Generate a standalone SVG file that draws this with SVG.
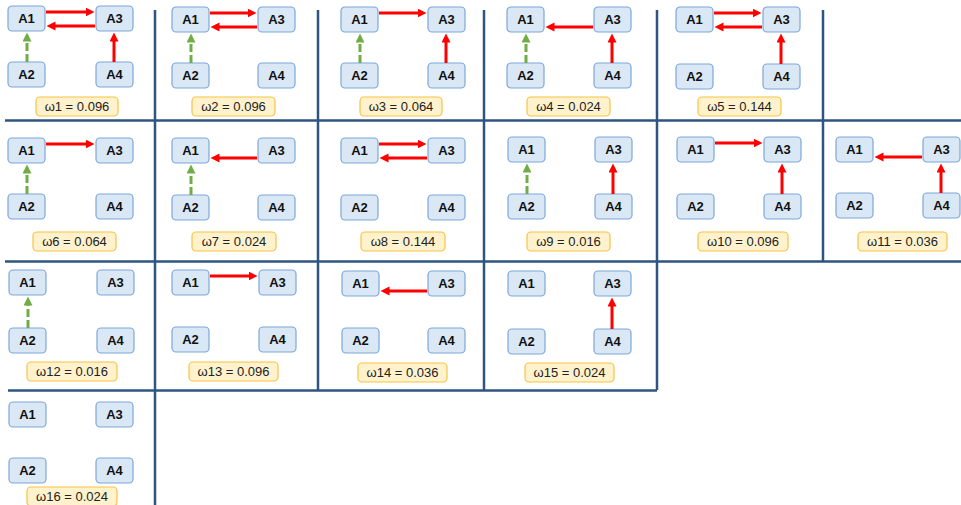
<svg xmlns="http://www.w3.org/2000/svg" width="961" height="505" viewBox="0 0 961 505">
<style>
.n rect{fill:#DAE7F4;stroke:#7DA7D9;stroke-width:1.2}
.n text{font-family:"Liberation Sans",Arial,sans-serif;font-weight:bold;font-size:13px;fill:#111;text-anchor:middle}
.lb rect{fill:#FFF2CC;stroke:#F7C344;stroke-width:1.2}
.lb text{font-family:"Liberation Sans",Arial,sans-serif;font-size:13px;fill:#222;text-anchor:middle}
.grid line{stroke:#2F5480;stroke-width:2.5}
.r{stroke:#FF0000;stroke-width:3;fill:none;marker-end:url(#hr)}
.g{stroke:#70AD47;stroke-width:3;fill:none;stroke-dasharray:8 3;marker-end:url(#hg)}
</style>
<defs>
<marker id="hr" markerUnits="userSpaceOnUse" markerWidth="10" markerHeight="10" refX="0.5" refY="4.5" orient="auto"><path d="M0,0 L9,4.5 L0,9 z" fill="#FF0000"/></marker>
<marker id="hg" markerUnits="userSpaceOnUse" markerWidth="10" markerHeight="10" refX="0.5" refY="4.5" orient="auto"><path d="M0,0 L9,4.5 L0,9 z" fill="#70AD47"/></marker>
</defs>
<rect width="961" height="505" fill="#FFFFFF"/>
<g class="grid" id="grid">
<line x1="5" y1="120.5" x2="961" y2="120.5"/>
<line x1="5" y1="261.5" x2="961" y2="261.5"/>
<line x1="8" y1="390.5" x2="657" y2="390.5"/>
<line x1="155" y1="10" x2="155" y2="505"/>
<line x1="318" y1="10" x2="318" y2="390"/>
<line x1="484" y1="10" x2="484" y2="390"/>
<line x1="657" y1="10" x2="657" y2="390"/>
<line x1="823" y1="10" x2="823" y2="261"/>
</g>
<g id="w1">
<g class="n" id="w1-A1"><rect x="8" y="6" width="37" height="25" rx="4"/><text x="26.5" y="23">A1</text></g>
<g class="n" id="w1-A3"><rect x="96" y="6" width="37" height="25" rx="4"/><text x="114.5" y="23">A3</text></g>
<g class="n" id="w1-A2"><rect x="8" y="62" width="37" height="25" rx="4"/><text x="26.5" y="79">A2</text></g>
<g class="n" id="w1-A4"><rect x="96" y="62" width="37" height="25" rx="4"/><text x="114.5" y="79">A4</text></g>
<g class="lb" id="w1-label"><rect x="36" y="97" width="82" height="19" rx="4"/><text x="77" y="111">ω1 = 0.096</text></g>
</g>
<g id="w2">
<g class="n" id="w2-A1"><rect x="172" y="7" width="37" height="25" rx="4"/><text x="190.5" y="24">A1</text></g>
<g class="n" id="w2-A3"><rect x="258" y="7" width="37" height="25" rx="4"/><text x="276.5" y="24">A3</text></g>
<g class="n" id="w2-A2"><rect x="172" y="63" width="37" height="25" rx="4"/><text x="190.5" y="80">A2</text></g>
<g class="n" id="w2-A4"><rect x="258" y="63" width="37" height="25" rx="4"/><text x="276.5" y="80">A4</text></g>
<g class="lb" id="w2-label"><rect x="192" y="97" width="83" height="19" rx="4"/><text x="233.5" y="111">ω2 = 0.096</text></g>
</g>
<g id="w3">
<g class="n" id="w3-A1"><rect x="341" y="7" width="37" height="25" rx="4"/><text x="359.5" y="24">A1</text></g>
<g class="n" id="w3-A3"><rect x="428" y="7" width="37" height="25" rx="4"/><text x="446.5" y="24">A3</text></g>
<g class="n" id="w3-A2"><rect x="341" y="63" width="37" height="25" rx="4"/><text x="359.5" y="80">A2</text></g>
<g class="n" id="w3-A4"><rect x="428" y="63" width="37" height="25" rx="4"/><text x="446.5" y="80">A4</text></g>
<g class="lb" id="w3-label"><rect x="360" y="97" width="82" height="19" rx="4"/><text x="401" y="111">ω3 = 0.064</text></g>
</g>
<g id="w4">
<g class="n" id="w4-A1"><rect x="507" y="7" width="37" height="25" rx="4"/><text x="525.5" y="24">A1</text></g>
<g class="n" id="w4-A3"><rect x="594" y="7" width="37" height="25" rx="4"/><text x="612.5" y="24">A3</text></g>
<g class="n" id="w4-A2"><rect x="507" y="63" width="37" height="25" rx="4"/><text x="525.5" y="80">A2</text></g>
<g class="n" id="w4-A4"><rect x="594" y="63" width="37" height="25" rx="4"/><text x="612.5" y="80">A4</text></g>
<g class="lb" id="w4-label"><rect x="527" y="97" width="83" height="19" rx="4"/><text x="568.5" y="111">ω4 = 0.024</text></g>
</g>
<g id="w5">
<g class="n" id="w5-A1"><rect x="676" y="7" width="37" height="25" rx="4"/><text x="694.5" y="24">A1</text></g>
<g class="n" id="w5-A3"><rect x="763" y="7" width="37" height="25" rx="4"/><text x="781.5" y="24">A3</text></g>
<g class="n" id="w5-A2"><rect x="676" y="64" width="37" height="25" rx="4"/><text x="694.5" y="81">A2</text></g>
<g class="n" id="w5-A4"><rect x="763" y="64" width="37" height="25" rx="4"/><text x="781.5" y="81">A4</text></g>
<g class="lb" id="w5-label"><rect x="698" y="97" width="83" height="19" rx="4"/><text x="739.5" y="111">ω5 = 0.144</text></g>
</g>
<g id="w6">
<g class="n" id="w6-A1"><rect x="8" y="138" width="37" height="25" rx="4"/><text x="26.5" y="155">A1</text></g>
<g class="n" id="w6-A3"><rect x="96" y="138" width="37" height="25" rx="4"/><text x="114.5" y="155">A3</text></g>
<g class="n" id="w6-A2"><rect x="8" y="194" width="37" height="25" rx="4"/><text x="26.5" y="211">A2</text></g>
<g class="n" id="w6-A4"><rect x="96" y="194" width="37" height="25" rx="4"/><text x="114.5" y="211">A4</text></g>
<g class="lb" id="w6-label"><rect x="33" y="232" width="83" height="19" rx="4"/><text x="74.5" y="246">ω6 = 0.064</text></g>
</g>
<g id="w7">
<g class="n" id="w7-A1"><rect x="172" y="138" width="37" height="25" rx="4"/><text x="190.5" y="155">A1</text></g>
<g class="n" id="w7-A3"><rect x="258" y="138" width="37" height="25" rx="4"/><text x="276.5" y="155">A3</text></g>
<g class="n" id="w7-A2"><rect x="172" y="195" width="37" height="25" rx="4"/><text x="190.5" y="212">A2</text></g>
<g class="n" id="w7-A4"><rect x="258" y="195" width="37" height="25" rx="4"/><text x="276.5" y="212">A4</text></g>
<g class="lb" id="w7-label"><rect x="192" y="232" width="84" height="19" rx="4"/><text x="234" y="246">ω7 = 0.024</text></g>
</g>
<g id="w8">
<g class="n" id="w8-A1"><rect x="341" y="138" width="37" height="25" rx="4"/><text x="359.5" y="155">A1</text></g>
<g class="n" id="w8-A3"><rect x="428" y="138" width="37" height="25" rx="4"/><text x="446.5" y="155">A3</text></g>
<g class="n" id="w8-A2"><rect x="341" y="195" width="37" height="25" rx="4"/><text x="359.5" y="212">A2</text></g>
<g class="n" id="w8-A4"><rect x="428" y="195" width="37" height="25" rx="4"/><text x="446.5" y="212">A4</text></g>
<g class="lb" id="w8-label"><rect x="361" y="232" width="84" height="19" rx="4"/><text x="403" y="246">ω8 = 0.144</text></g>
</g>
<g id="w9">
<g class="n" id="w9-A1"><rect x="508" y="137" width="37" height="25" rx="4"/><text x="526.5" y="154">A1</text></g>
<g class="n" id="w9-A3"><rect x="595" y="137" width="37" height="25" rx="4"/><text x="613.5" y="154">A3</text></g>
<g class="n" id="w9-A2"><rect x="508" y="194" width="37" height="25" rx="4"/><text x="526.5" y="211">A2</text></g>
<g class="n" id="w9-A4"><rect x="595" y="194" width="37" height="25" rx="4"/><text x="613.5" y="211">A4</text></g>
<g class="lb" id="w9-label"><rect x="527" y="232" width="83" height="19" rx="4"/><text x="568.5" y="246">ω9 = 0.016</text></g>
</g>
<g id="w10">
<g class="n" id="w10-A1"><rect x="677" y="137" width="37" height="25" rx="4"/><text x="695.5" y="154">A1</text></g>
<g class="n" id="w10-A3"><rect x="764" y="137" width="37" height="25" rx="4"/><text x="782.5" y="154">A3</text></g>
<g class="n" id="w10-A2"><rect x="677" y="194" width="37" height="25" rx="4"/><text x="695.5" y="211">A2</text></g>
<g class="n" id="w10-A4"><rect x="764" y="194" width="37" height="25" rx="4"/><text x="782.5" y="211">A4</text></g>
<g class="lb" id="w10-label"><rect x="698" y="232" width="90" height="19" rx="4"/><text x="743" y="246">ω10 = 0.096</text></g>
</g>
<g id="w11">
<g class="n" id="w11-A1"><rect x="836" y="137" width="37" height="25" rx="4"/><text x="854.5" y="154">A1</text></g>
<g class="n" id="w11-A3"><rect x="923" y="137" width="37" height="25" rx="4"/><text x="941.5" y="154">A3</text></g>
<g class="n" id="w11-A2"><rect x="836" y="193" width="37" height="25" rx="4"/><text x="854.5" y="210">A2</text></g>
<g class="n" id="w11-A4"><rect x="923" y="193" width="37" height="25" rx="4"/><text x="941.5" y="210">A4</text></g>
<g class="lb" id="w11-label"><rect x="858" y="232" width="89" height="19" rx="4"/><text x="902.5" y="246">ω11 = 0.036</text></g>
</g>
<g id="w12">
<g class="n" id="w12-A1"><rect x="9" y="270" width="37" height="25" rx="4"/><text x="27.5" y="287">A1</text></g>
<g class="n" id="w12-A3"><rect x="97" y="270" width="37" height="25" rx="4"/><text x="115.5" y="287">A3</text></g>
<g class="n" id="w12-A2"><rect x="9" y="328" width="37" height="25" rx="4"/><text x="27.5" y="345">A2</text></g>
<g class="n" id="w12-A4"><rect x="97" y="328" width="37" height="25" rx="4"/><text x="115.5" y="345">A4</text></g>
<g class="lb" id="w12-label"><rect x="27" y="362" width="90" height="19" rx="4"/><text x="72" y="376">ω12 = 0.016</text></g>
</g>
<g id="w13">
<g class="n" id="w13-A1"><rect x="172" y="270" width="37" height="25" rx="4"/><text x="190.5" y="287">A1</text></g>
<g class="n" id="w13-A3"><rect x="259" y="270" width="37" height="25" rx="4"/><text x="277.5" y="287">A3</text></g>
<g class="n" id="w13-A2"><rect x="172" y="327" width="37" height="25" rx="4"/><text x="190.5" y="344">A2</text></g>
<g class="n" id="w13-A4"><rect x="259" y="327" width="37" height="25" rx="4"/><text x="277.5" y="344">A4</text></g>
<g class="lb" id="w13-label"><rect x="189" y="362" width="89" height="19" rx="4"/><text x="233.5" y="376">ω13 = 0.096</text></g>
</g>
<g id="w14">
<g class="n" id="w14-A1"><rect x="342" y="271" width="37" height="25" rx="4"/><text x="360.5" y="288">A1</text></g>
<g class="n" id="w14-A3"><rect x="428" y="271" width="37" height="25" rx="4"/><text x="446.5" y="288">A3</text></g>
<g class="n" id="w14-A2"><rect x="342" y="328" width="37" height="25" rx="4"/><text x="360.5" y="345">A2</text></g>
<g class="n" id="w14-A4"><rect x="428" y="328" width="37" height="25" rx="4"/><text x="446.5" y="345">A4</text></g>
<g class="lb" id="w14-label"><rect x="358" y="363" width="89" height="19" rx="4"/><text x="402.5" y="377">ω14 = 0.036</text></g>
</g>
<g id="w15">
<g class="n" id="w15-A1"><rect x="508" y="271" width="37" height="25" rx="4"/><text x="526.5" y="288">A1</text></g>
<g class="n" id="w15-A3"><rect x="594" y="271" width="37" height="25" rx="4"/><text x="612.5" y="288">A3</text></g>
<g class="n" id="w15-A2"><rect x="508" y="329" width="37" height="25" rx="4"/><text x="526.5" y="346">A2</text></g>
<g class="n" id="w15-A4"><rect x="594" y="329" width="37" height="25" rx="4"/><text x="612.5" y="346">A4</text></g>
<g class="lb" id="w15-label"><rect x="525" y="363" width="89" height="19" rx="4"/><text x="569.5" y="377">ω15 = 0.024</text></g>
</g>
<g id="w16">
<g class="n" id="w16-A1"><rect x="9" y="402" width="37" height="25" rx="4"/><text x="27.5" y="419">A1</text></g>
<g class="n" id="w16-A3"><rect x="96" y="402" width="37" height="25" rx="4"/><text x="114.5" y="419">A3</text></g>
<g class="n" id="w16-A2"><rect x="9" y="458" width="37" height="25" rx="4"/><text x="27.5" y="475">A2</text></g>
<g class="n" id="w16-A4"><rect x="96" y="458" width="37" height="25" rx="4"/><text x="114.5" y="475">A4</text></g>
<g class="lb" id="w16-label"><rect x="27" y="487" width="90" height="19" rx="4"/><text x="72" y="501">ω16 = 0.024</text></g>
</g>
<g id="connectors">
<line class="r" x1="46" y1="12" x2="86" y2="12"/>
<line class="r" x1="95" y1="26" x2="55" y2="26"/>
<line class="g" x1="27" y1="62" x2="27" y2="41"/>
<line class="r" x1="114" y1="62" x2="114" y2="41"/>
<line class="r" x1="210" y1="13" x2="248" y2="13"/>
<line class="r" x1="257" y1="27" x2="219" y2="27"/>
<line class="g" x1="191" y1="63" x2="191" y2="42"/>
<line class="r" x1="379" y1="13" x2="418" y2="13"/>
<line class="g" x1="360" y1="63" x2="360" y2="42"/>
<line class="r" x1="446" y1="63" x2="446" y2="42"/>
<line class="r" x1="593" y1="27" x2="554" y2="27"/>
<line class="g" x1="526" y1="63" x2="526" y2="42"/>
<line class="r" x1="612" y1="63" x2="612" y2="42"/>
<line class="r" x1="714" y1="13" x2="753" y2="13"/>
<line class="r" x1="762" y1="27" x2="723" y2="27"/>
<line class="r" x1="781" y1="64" x2="781" y2="42"/>
<line class="r" x1="46" y1="144" x2="86" y2="144"/>
<line class="g" x1="27" y1="194" x2="27" y2="173"/>
<line class="r" x1="257" y1="158" x2="219" y2="158"/>
<line class="g" x1="191" y1="195" x2="191" y2="173"/>
<line class="r" x1="379" y1="144" x2="418" y2="144"/>
<line class="r" x1="427" y1="158" x2="388" y2="158"/>
<line class="g" x1="527" y1="194" x2="527" y2="172"/>
<line class="r" x1="613" y1="194" x2="613" y2="172"/>
<line class="r" x1="715" y1="143" x2="754" y2="143"/>
<line class="r" x1="782" y1="194" x2="782" y2="172"/>
<line class="r" x1="922" y1="157" x2="883" y2="157"/>
<line class="r" x1="941" y1="193" x2="941" y2="172"/>
<line class="g" x1="28" y1="328" x2="28" y2="305"/>
<line class="r" x1="210" y1="276" x2="249" y2="276"/>
<line class="r" x1="427" y1="291" x2="389" y2="291"/>
<line class="r" x1="612" y1="329" x2="612" y2="306"/>
</g>
</svg>
